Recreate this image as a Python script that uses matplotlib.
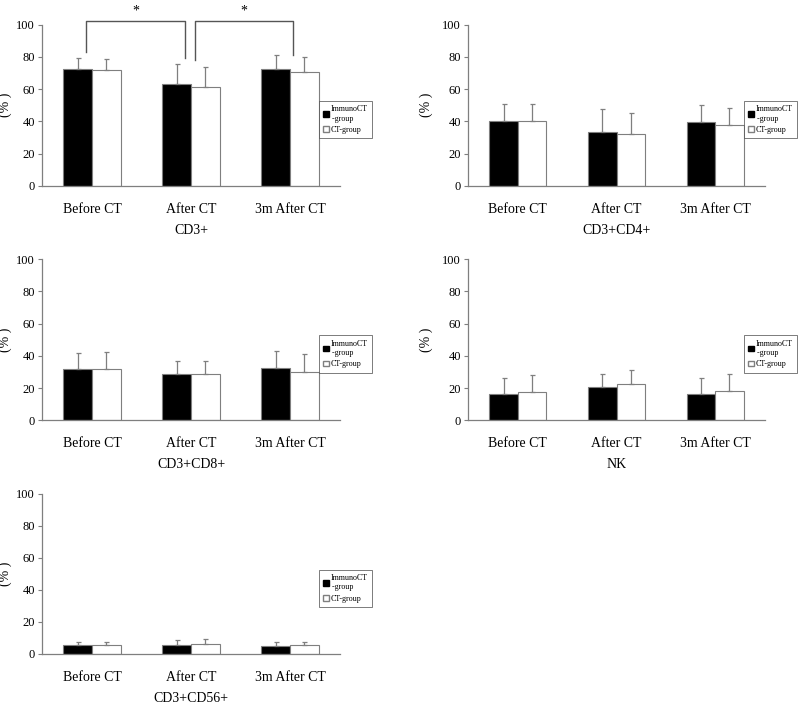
import numpy as np
import matplotlib
matplotlib.use("Agg")
import matplotlib.pyplot as plt
from matplotlib.patches import Patch

plt.rcParams['font.family'] = ['Liberation Serif', 'DejaVu Serif']

stages = ['Before CT', 'After CT', '3m After CT']
panel_titles = ['CD3+', 'CD3+CD4+', 'CD3+CD8+', 'NK', 'CD3+CD56+']

# mean values (%) per panel: ImmunoCT-group / CT-group
immuno_mean = [[72.5, 63.0, 72.5], [40.0, 33.5, 39.5], [32.0, 29.0, 32.5],
               [16.0, 20.5, 16.0], [5.5, 5.5, 5.2]]
immuno_sd = [[7.0, 12.5, 8.5], [10.5, 14.0, 10.5], [10.0, 8.0, 10.5],
             [10.0, 8.0, 10.5], [1.8, 3.5, 2.3]]
ct_mean = [[72.0, 61.0, 70.5], [40.0, 32.0, 38.0], [32.0, 29.0, 30.0],
           [17.5, 22.5, 18.0], [5.8, 6.0, 5.5]]
ct_sd = [[6.5, 12.5, 9.5], [10.5, 13.0, 10.5], [10.5, 8.0, 11.0],
         [10.5, 8.5, 11.0], [1.8, 3.5, 2.0]]

# significance pairs on the CD3+ panel
sig_pairs = [(0, 1), (1, 2)]
sig_labels = ['*', '*']

gray = '#7f7f7f'
W, H = 800, 705
fig = plt.figure(figsize=(8, 7.05), dpi=100)

# axes boxes in pixels: left, top(100), right, bottom(0)
boxes = [(42, 24.5, 340, 186), (468, 24.5, 765, 186),
         (42, 259, 340, 420.3), (468, 259, 765, 420.3),
         (42, 494, 340, 654)]
ylabel_x = [-0.10, -0.118, -0.10, -0.118, -0.10]

w = 0.288
x = np.arange(len(stages))
axes = []
for i, (l, t, r, b) in enumerate(boxes):
    ax = fig.add_axes([l / W, 1 - b / H, (r - l) / W, (b - t) / H])
    axes.append(ax)
    ax.bar(x - w / 2, immuno_mean[i], w, color='black', edgecolor=gray, linewidth=0.8)
    ax.bar(x + w / 2, ct_mean[i], w, color='white', edgecolor=gray, linewidth=0.8)
    ax.errorbar(x - w / 2, immuno_mean[i], yerr=[np.zeros(3), immuno_sd[i]],
                fmt='none', ecolor=gray, elinewidth=0.9, capsize=1.8, capthick=0.9)
    ax.errorbar(x + w / 2, ct_mean[i], yerr=[np.zeros(3), ct_sd[i]],
                fmt='none', ecolor=gray, elinewidth=0.9, capsize=1.8, capthick=0.9)
    ax.set_xlim(-0.505, 2.505)
    ax.set_ylim(0, 100)
    ax.set_yticks([0, 20, 40, 60, 80, 100])
    ax.tick_params(axis='y', direction='out', length=3, width=0.8, color=gray,
                   labelsize=9, pad=2)
    ax.set_xticks(x)
    ax.set_xticklabels(stages, fontsize=10)
    ax.tick_params(axis='x', length=0, pad=12)
    for s in ['top', 'right']:
        ax.spines[s].set_visible(False)
    for s in ['left', 'bottom']:
        ax.spines[s].set_color(gray)
        ax.spines[s].set_linewidth(0.9)
    ax.set_ylabel('(% )', fontsize=10)
    ax.yaxis.set_label_coords(ylabel_x[i], 0.5)
    ax.set_xlabel(panel_titles[i], fontsize=10, labelpad=6)
    handles = [Patch(facecolor='black', edgecolor='black'),
               Patch(facecolor='white', edgecolor=gray)]
    leg = ax.legend(handles, ['ImmunoCT\n -group', 'CT-group'], loc='upper right',
                    bbox_to_anchor=(1.107, 0.526), borderaxespad=0, fontsize=5.8,
                    handlelength=0.7, handleheight=0.7, handletextpad=0.2,
                    borderpad=0.55, labelspacing=0.4, fancybox=False, frameon=True)
    leg.get_frame().set_edgecolor('#404040')
    leg.get_frame().set_linewidth(0.6)

# significance brackets on CD3+
ax = axes[0]
tops = np.maximum(np.array(immuno_mean[0]) + np.array(immuno_sd[0]),
                  np.array(ct_mean[0]) + np.array(ct_sd[0]))
offsets = [(-0.06, 0.94, 3.5, 3.5), (1.04, 2.03, 2.5, 0.0)]
for (a, c), lab, (xa, xc, da, dc) in zip(sig_pairs, sig_labels, offsets):
    ya, yc = tops[a] + da, tops[c] + dc
    ax.plot([xa, xa, xc, xc], [ya, 102, 102, yc], color='#555555', lw=1.0,
            clip_on=False)
    ax.text((xa + xc) / 2, 104, lab, ha='center', va='bottom', fontsize=10)

fig.savefig('out.png', dpi=100)
